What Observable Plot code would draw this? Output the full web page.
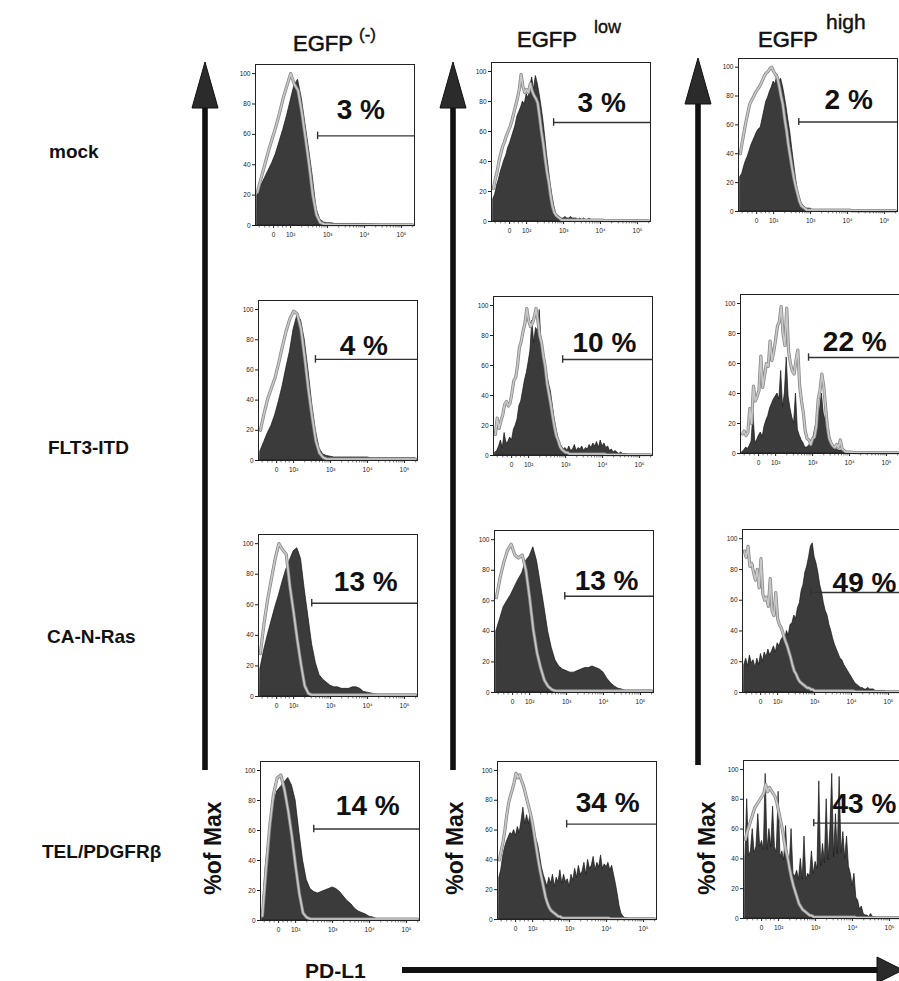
<!DOCTYPE html>
<html><head><meta charset="utf-8">
<script src="https://cdn.jsdelivr.net/npm/d3@7"></script>
<script src="https://cdn.jsdelivr.net/npm/@observablehq/plot@0.6"></script>
<style>
body{margin:0;background:#fff;font-family:"Liberation Sans",Arial,sans-serif;}
#fig{position:relative;width:899px;height:981px;overflow:hidden;background:#fff;}
</style></head><body><div id="fig"></div>
<script>
// ---------- categories / labels ----------
const rowNames = ["mock", "FLT3-ITD", "CA-N-Ras", "TEL/PDGFRβ"];
const colSup = ["(-)", "low", "high"];
const percents = [[3, 3, 2], [4, 10, 22], [13, 13, 49], [14, 34, 43]];
const majorTicks = [1.54, 2, 3, 4, 5];
const majorLabels = ["0", "10²", "10³", "10⁴", "10⁵"];
const yTicks = [0, 20, 40, 60, 80, 100];
// gate (marker) start on display axis and its level in % of max
const gateStart = [[2.73, 2.73, 2.68], [2.59, 2.92, 2.89], [2.49, 2.95, 2.89], [2.49, 2.92, 2.95]];
const gateLevel = [[59, 66, 62], [67, 64, 64], [61, 63, 65], [61, 64, 64]];

// display-axis sampling (logicle display units: 10^2 = 2, 10^3 = 3 ...)
const coarseGrid = d3.range(43).map(i => +(1.1 + 0.1 * i).toFixed(2));
const fineGrid = d3.range(85).map(i => +(1.1 + 0.05 * i).toFixed(2));

// ---------- histograms (% of max) ----------
// mock
const mockNegFill = [20,26,31,36,41,47,55,63,72,82, 92,96,84,67,50,32,11,4,2,1.5, 1.5,1,1,1,1,1,1,1,1,1, 0.8,0.8,0.6,0.6,0.5,0.5,0.5,0.5,0.5,0.5, 0.5,0.5,0.5];
const mockNegCtrl = [22,31,40,49,57,65,74,84,92,100, 93,89,75,58,40,20,7,2,1,0.8, 0.6,0.5,0.5,0.5,0.5,0.5,0.5,0.5,0.5,0.5, 0.5,0.5,0.5,0.5,0.5,0.5,0.5,0.5,0.5,0.5, 0.5,0.5,0.5];
const mockLowFill = [15,18,24,28,33,37,41,44,49,52, 56,60,64,70,73,76,80,78,85,82, 90,96,88,97,92,85,77,68,57,45, 35,25,17,10,5,4,3,2,2,3, 2,2,3,2,2,2,1,2,1,2, 1,1,2,1,1,1,1,1,1,1, 0.5,0.5,0.5,0.5,0.5,0.5,0.5,0.5,0.5,0.5, 0.5,0.5,0.5,0.5,0.5,0.5,0.5,0.5,0.5,0.5, 0.5,0.5,0.5,0.5,0.5];
const mockLowCtrl = [22,28,33,40,45,50,53,57,60,63, 67,72,77,82,88,98,90,86,88,86, 92,87,84,82,79,70,60,52,42,33, 26,17,10,6,4,3,2,1,1,1, 1,1,1,1,1,1,1,1,1,1, 1,1,1,1,1,1,1,1,1,1, 0.5,0.5,0.5,0.5,0.5,0.5,0.5,0.5,0.5,0.5, 0.5,0.5,0.5,0.5,0.5,0.5,0.5,0.5,0.5,0.5, 0.5,0.5,0.5,0.5,0.5];
const mockHighFill = [24,26,31,35,38,42,46,49,52,55, 57,58,64,70,76,79,83,86,90,88, 95,90,92,87,80,72,63,55,44,34, 24,15,10,6,4,3,2,2,2,1, 1,1,1,1,1,1,1,1,1,1, 1,1,1,1,1,1,1,1,1,1, 0.5,0.5,0.5,0.5,0.5,0.5,0.5,0.5,0.5,0.5, 0.5,0.5,0.5,0.5,0.5,0.5,0.5,0.5,0.5,0.5, 0.5,0.5,0.5,0.5,0.5];
const mockHighCtrl = [40,48,55,62,68,74,77,79,82,84, 86,88,91,94,96,97,99,100,97,95, 93,87,80,74,64,56,46,38,30,23, 17,12,7,4,3,2,1,1,1,1, 1,1,1,1,1,1,1,1,1,1, 1,1,1,1,1,1,1,1,1,1, 0.5,0.5,0.5,0.5,0.5,0.5,0.5,0.5,0.5,0.5, 0.5,0.5,0.5,0.5,0.5,0.5,0.5,0.5,0.5,0.5, 0.5,0.5,0.5,0.5,0.5];
// FLT3-ITD
const flt3NegFill = [6,12,18,23,30,39,49,61,72,87, 96,93,80,60,38,20,8,4,3,2.5, 2,2,2,2,2,2,2,2,2,2, 1.5,1.5,1.5,1.5,1.5,1.5,1.5,1.5,1.5,1.5, 1.5,1.5,1.5];
const flt3NegCtrl = [20,31,41,48,55,65,76,86,94,99, 97,87,68,47,29,13,5,2,1,1, 1,1,1,1,1,1,1,1,1,1, 1,1,1,1,1,1,1,1,1,1, 1,1,1];
const flt3LowFill = [2,3,6,10,5,15,8,9,12,10, 17,20,24,33,36,43,50,55,62,70, 90,75,85,83,97,74,70,62,54,48, 43,34,25,18,12,8,6,4,5,3, 6,3,4,7,3,5,4,6,3,5, 4,7,5,8,6,9,5,10,6,8, 5,6,3,4,2,3,2,1,2,1, 1,1,0.5,0.5,0.5,0.5,0.5,0.5,0.5,0.5, 0.5,0.5,0.5,0.5,0.5];
const flt3LowCtrl = [14,25,18,23,27,34,36,33,35,42, 50,52,60,72,76,83,88,98,90,86, 88,92,98,90,80,75,66,59,48,41, 34,26,19,13,10,6,4,3,2,2, 1,1,1,1,1,1,1,1,1,1, 1,1,1,1,1,1,1,1,1,1, 0.5,0.5,0.5,0.5,0.5,0.5,0.5,0.5,0.5,0.5, 0.5,0.5,0.5,0.5,0.5,0.5,0.5,0.5,0.5,0.5, 0.5,0.5,0.5,0.5,0.5];
const flt3HighFill = [1,2,4,3,5,8,27,7,9,12, 14,11,18,22,25,30,33,36,38,40, 36,55,31,40,64,38,30,24,20,40, 16,12,9,7,4,4,5,7,8,14, 20,24,29,40,27,22,18,12,9,5, 3,3,2,2,2,1,1,1,0.5,0.5, 0.5,0.5,0.5,0.5,0.5,0.5,0.5,0.5,0.5,0.5, 0.5,0.5,0.5,0.5,0.5,0.5,0.5,0.5,0.5,0.5, 0.5,0.5,0.5,0.5,0.5];
const flt3HighCtrl = [13,15,12,14,30,20,45,35,38,42, 65,44,52,60,58,75,62,68,76,85, 88,98,80,72,97,68,60,55,53,62, 69,45,35,27,15,10,9,6,10,11, 18,36,42,53,45,31,18,10,7,5, 4,6,4,9,3,2,1,1,1,1, 0.5,0.5,0.5,0.5,0.5,0.5,0.5,0.5,0.5,0.5, 0.5,0.5,0.5,0.5,0.5,0.5,0.5,0.5,0.5,0.5, 0.5,0.5,0.5,0.5,0.5];
// CA-N-Ras
const rasNegFill = [18,30,40,49,58,66,75,83,89,95, 97,90,70,52,34,22,14,11,9,7, 6,6,5,5,5,6,6,5,3,2.5, 2,1.5,1,0.8,0.8,0.8,0.8,0.8,0.8,0.8, 0.8,0.8,0.8];
const rasNegCtrl = [28,48,64,77,90,100,96,93,72,55, 37,21,7,2,1,1,1,1,1,1, 1,1,1,1,1,1,1,1,1,1, 1,1,1,1,1,1,1,1,1,1, 1,1,1];
const rasLowFill = [40,48,56,60,64,69,74,78,86,89, 95,86,71,56,40,29,21,17,15,14, 13,13,14,15,16,16,17,16,15,13, 9,6,4,2.5,2,1,0.5,0.5,0.5,0.5, 0.5,0.5,0.5];
const rasLowCtrl = [62,75,85,93,97,90,88,90,80,62, 41,26,16,8,4,2,1,1,1,1, 1,1,1,1,1,1,1,1,1,1, 1,1,1,1,1,1,1,1,1,1, 1,1,1];
const rasHighFill = [18,22,17,24,19,21,16,22,18,25, 20,26,23,28,24,27,30,26,32,30, 34,36,33,40,37,44,45,50,48,55, 58,66,70,78,82,88,95,97,88,84, 78,70,65,58,53,50,44,40,35,31, 28,25,22,21,18,16,14,12,10,8, 6,5,4,3,3,2,2,3,2,2, 2,1,1,1,1,1,1,0.5,0.5,0.5, 0.5,0.5,0.5,0.5,0.5];
const rasHighCtrl = [92,88,95,82,84,78,73,80,68,87, 64,60,62,56,74,53,50,65,48,44, 42,38,34,31,27,23,18,14,12,9, 7,6,5,4,3,3,2,2,1,1, 1,1,1,1,1,1,1,1,1,1, 1,1,1,1,1,1,1,1,1,1, 0.5,0.5,0.5,0.5,0.5,0.5,0.5,0.5,0.5,0.5, 0.5,0.5,0.5,0.5,0.5,0.5,0.5,0.5,0.5,0.5, 0.5,0.5,0.5,0.5,0.5];
// TEL/PDGFRβ
const telNegFill = [3,38,60,76,86,89,92,95,90,80, 59,40,27,21,19,18,19,20,21,22, 21,19,16,13,11,8,6,5,4,2.5, 2,1,0.5,0.5,0.5,0.5,0.5,0.5,0.5,0.5, 0.5,0.5,0.5];
const telNegCtrl = [3,34,63,84,95,97,87,73,56,36, 18,5,2,1,1,1,1,1,1,1, 1,1,1,1,1,1,1,1,1,1, 1,1,1,1,1,1,1,1,1,1, 1,1,1];
const telLowFill = [28,33,42,48,52,55,58,57,60,56, 62,58,66,75,64,70,64,72,58,60, 54,50,43,35,30,26,22,28,24,30, 22,28,25,33,24,30,25,27,22,30, 26,34,28,36,30,32,38,30,40,34, 36,42,33,38,35,43,34,37,35,38, 33,36,30,24,17,9,4,2,1,1, 0.5,0.5,0.5,0.5,0.5,0.5,0.5,0.5,0.5,0.5, 0.5,0.5,0.5,0.5,0.5];
const telLowCtrl = [40,46,52,60,70,78,83,87,92,98, 95,97,93,90,85,80,75,70,64,56, 48,40,33,27,21,15,11,8,6,5, 4,3,2,2,1,1,1,1,1,1, 1,1,1,1,1,1,1,1,1,1, 1,1,1,1,1,1,1,1,1,1, 0.5,0.5,0.5,0.5,0.5,0.5,0.5,0.5,0.5,0.5, 0.5,0.5,0.5,0.5,0.5,0.5,0.5,0.5,0.5,0.5, 0.5,0.5,0.5,0.5,0.5];
const telHighFill = [40,80,42,45,60,44,48,70,48,52, 46,97,46,60,48,75,48,44,85,41, 45,39,62,38,35,60,30,28,32,26, 40,26,55,26,30,28,45,30,38,33, 92,35,50,37,80,39,60,97,41,70, 43,95,44,58,40,55,35,30,22,30, 14,12,6,8,3,2,2,1,3,1, 1,0.5,0.5,0.5,0.5,0.5,0.5,0.5,0.5,0.5, 0.5,0.5,0.5,0.5,0.5];
const telHighCtrl = [53,58,62,66,70,74,76,78,80,82, 84,90,85,88,86,84,82,78,72,66, 60,52,45,40,33,27,22,18,14,10, 8,6,5,4,3,2,2,1,1,1, 1,1,1,1,1,1,1,1,1,1, 1,1,1,1,1,1,1,1,1,1, 0.5,0.5,0.5,0.5,0.5,0.5,0.5,0.5,0.5,0.5, 0.5,0.5,0.5,0.5,0.5,0.5,0.5,0.5,0.5,0.5, 0.5,0.5,0.5,0.5,0.5];

const panelData = [
  [[coarseGrid, mockNegFill, mockNegCtrl], [fineGrid, mockLowFill, mockLowCtrl], [fineGrid, mockHighFill, mockHighCtrl]],
  [[coarseGrid, flt3NegFill, flt3NegCtrl], [fineGrid, flt3LowFill, flt3LowCtrl], [fineGrid, flt3HighFill, flt3HighCtrl]],
  [[coarseGrid, rasNegFill, rasNegCtrl], [coarseGrid, rasLowFill, rasLowCtrl], [fineGrid, rasHighFill, rasHighCtrl]],
  [[coarseGrid, telNegFill, telNegCtrl], [fineGrid, telLowFill, telLowCtrl], [fineGrid, telHighFill, telHighCtrl]]
];

// ---------- layout (not data) ----------
const frameLeft = [[255, 491, 738], [258, 493, 740], [258, 494, 742], [260, 497, 743]];
const zeroY = [[225, 221, 211], [460, 455, 453], [696, 692, 692], [920, 919, 918]];
const pxPer100 = [[152, 150, 144], [151, 150, 150], [153, 153, 154], [150, 149, 149]];
const pctPos = [
  [[3.9, 76], [4.03, 79], [4.03, 77]],
  [[3.9, 76], [4.05, 75], [4.14, 74]],
  [[3.95, 75], [4.08, 73], [4.35, 71]],
  [[3.95, 76], [4.03, 78], [4.32, 77]]
];
const X_MIN = 1.05, X_MAX = 5.35;
const tickText = new Map(majorTicks.map((t, i) => [t, majorLabels[i]]));
const minorTicks = [1.15, 1.3, 1.42, 1.66, 1.78, 1.88].concat(
  ...[2, 3, 4].map(d => d3.range(2, 10).map(k => d + Math.log10(k))), [5 + Math.log10(2)]);

const fig = document.getElementById("fig");
const FONT = "Liberation Sans, Arial, sans-serif";

// overlay: arrows and labels
const ov = d3.select(fig).append("svg")
  .attr("width", 899).attr("height", 981)
  .style("position", "absolute").style("left", "0px").style("top", "0px")
  .style("font-family", FONT);

const colArrows = [{x: 205, tip: 62, bottom: 770}, {x: 453, tip: 62, bottom: 770}, {x: 698, tip: 58, bottom: 765}];
colArrows.forEach(a => {
  ov.append("rect").attr("x", a.x - 2.8).attr("y", a.tip + 40).attr("width", 5.6).attr("height", a.bottom - a.tip - 40).attr("fill", "#111");
  ov.append("path").attr("d", `M${a.x},${a.tip} L${a.x + 13},${a.tip + 46} L${a.x - 13},${a.tip + 46} Z`).attr("fill", "#2b2b2b").attr("stroke", "#111").attr("stroke-width", 1);
});
const hArrow = {y: 970, x1: 402, tip: 903};
ov.append("rect").attr("x", hArrow.x1).attr("y", hArrow.y - 3).attr("width", hArrow.tip - 24 - hArrow.x1).attr("height", 6).attr("fill", "#111");
ov.append("path").attr("d", `M${hArrow.tip},${hArrow.y} L${hArrow.tip - 26},${hArrow.y - 13} L${hArrow.tip - 26},${hArrow.y + 13} Z`).attr("fill", "#2b2b2b").attr("stroke", "#111");

// column headers
const headers = [{x: 293, y: 51, sx: 359, sy: 40, fs: 17}, {x: 517, y: 47, sx: 594, sy: 33, fs: 18}, {x: 758, y: 47, sx: 826, sy: 29, fs: 21}];
headers.forEach((h, i) => {
  ov.append("text").attr("x", h.x).attr("y", h.y).attr("font-size", 22).attr("fill", "#111")
    .attr("stroke", "#111").attr("stroke-width", 0.6).text("EGFP");
  ov.append("text").attr("x", h.sx).attr("y", h.sy).attr("font-size", h.fs).attr("fill", "#111")
    .attr("stroke", "#111").attr("stroke-width", 0.4).text(colSup[i]);
});
// row labels
const rowLab = [{x: 49, y: 158}, {x: 48, y: 454}, {x: 47, y: 643}, {x: 42, y: 858}];
rowLab.forEach((r, i) => {
  ov.append("text").attr("x", r.x).attr("y", r.y).attr("font-size", 19).attr("font-weight", "bold").attr("fill", "#111").text(rowNames[i]);
});
// y titles
[221, 463, 715].forEach(x => {
  ov.append("text").attr("transform", `translate(${x},848) rotate(-90)`).attr("text-anchor", "middle")
    .attr("font-size", 23).attr("font-weight", "bold").attr("fill", "#111").text("%of Max");
});
ov.append("text").attr("x", 305).attr("y", 978).attr("font-size", 21).attr("font-weight", "bold").attr("fill", "#111").text("PD-L1");

// panels
for (let r = 0; r < 4; r++) {
  for (let c = 0; c < 3; c++) {
    const [grid, fill, ctrl] = panelData[r][c];
    const k = pxPer100[r][c] / 100;
    const innerH = Math.round(106 * k), innerW = 159;
    const mL = 26, mR = 2, mT = 2, mB = 22;
    const fillData = grid.map((u, i) => ({u, v: fill[i]}));
    const ctrlData = grid.map((u, i) => ({u, v: ctrl[i]}));
    const gate = {start: gateStart[r][c], end: X_MAX, level: gateLevel[r][c]};
    const lab = {u: pctPos[r][c][0], v: pctPos[r][c][1], t: percents[r][c] + " %"};
    const chart = Plot.plot({
      width: mL + innerW + mR, height: mT + innerH + mB,
      marginLeft: mL, marginRight: mR, marginTop: mT, marginBottom: mB,
      style: {background: "transparent", overflow: "visible", fontFamily: FONT, fontSize: "6.5px", color: "#222"},
      x: {domain: [X_MIN, X_MAX], ticks: majorTicks, tickFormat: d => tickText.get(d), tickSize: 3, tickPadding: 4, label: null},
      y: {domain: [0, 106], ticks: yTicks, tickSize: 3, tickPadding: 2, label: null},
      marks: [
        Plot.areaY(fillData, {x: "u", y: "v", fill: "#3b3b3b", stroke: "#161616", strokeWidth: 0.7}),
        Plot.line(ctrlData, {x: "u", y: "v", stroke: "#8a8a8a", strokeWidth: 3.2}),
        Plot.line(ctrlData, {x: "u", y: "v", stroke: "#c8c8c8", strokeWidth: 1.6}),
        Plot.ruleX(minorTicks, {x: d => d, y1: -1.6, y2: 0, stroke: "#333", strokeWidth: 0.7}),
        Plot.frame({stroke: "#222", strokeWidth: 1}),
        Plot.ruleY([gate], {y: "level", x1: "start", x2: "end", stroke: "#333", strokeWidth: 1.4}),
        Plot.ruleX([gate], {x: "start", y1: d => d.level - 2.5, y2: d => d.level + 2.5, stroke: "#333", strokeWidth: 1.4}),
        Plot.text([lab], {x: "u", y: "v", text: "t", fontSize: 28, fontWeight: "bold", fill: "#111"})
      ]
    });
    chart.style.position = "absolute";
    chart.style.left = (frameLeft[r][c] - mL) + "px";
    chart.style.top = (zeroY[r][c] - innerH - mT) + "px";
    fig.appendChild(chart);
  }
}
</script>
</body></html>
